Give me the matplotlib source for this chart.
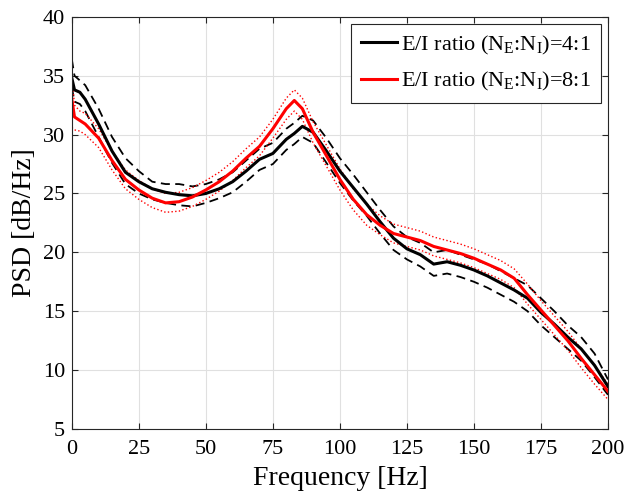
import numpy as np
import matplotlib
matplotlib.use('Agg')
import matplotlib.pyplot as plt

plt.rcParams['font.family'] = ['Liberation Serif', 'DejaVu Serif']
plt.rcParams['mathtext.fontset'] = 'custom'
plt.rcParams['mathtext.rm'] = 'Liberation Serif'
plt.rcParams['mathtext.it'] = 'Liberation Serif'

freq = [0, 1, 3, 5, 10, 15, 20, 25, 30, 35, 40, 45, 50, 55, 60, 65, 70, 75, 80, 83, 86,
        90, 95, 100, 105, 110, 115, 120, 125, 130, 135, 140, 145, 150, 155, 160, 165,
        170, 175, 180, 185, 190, 195, 200]

# E/I 4:1 (black)
psd_41 = [34.8, 33.8, 33.6, 33.0, 30.9, 28.6, 26.8, 26.0, 25.4, 25.1, 24.9, 24.8, 25.0, 25.4,
          26.0, 26.9, 27.9, 28.4, 29.6, 30.1, 30.7, 30.2, 28.6, 26.9, 25.5, 24.1, 22.6, 21.2,
          20.3, 19.8, 19.0, 19.2, 18.9, 18.5, 18.0, 17.4, 16.8, 16.1, 14.9, 13.9, 12.8, 11.8,
          10.4, 8.6]
psd_41_hi = [36.4, 35.0, 34.6, 34.2, 32.2, 29.8, 28.0, 26.9, 26.0, 25.8, 25.8, 25.6, 25.8, 26.2,
             26.8, 27.8, 28.8, 29.3, 30.5, 31.0, 31.6, 31.2, 29.7, 28.0, 26.6, 25.1, 23.6, 22.2,
             21.3, 20.8, 20.0, 20.2, 19.8, 19.4, 19.0, 18.4, 17.8, 17.2, 16.1, 15.0, 13.8, 12.8,
             11.4, 9.2]
psd_41_lo = [34.0, 32.8, 32.6, 32.0, 29.8, 27.6, 25.8, 25.0, 24.5, 24.2, 24.0, 23.9, 24.2, 24.6,
             25.1, 26.0, 27.0, 27.5, 28.7, 29.2, 29.8, 29.3, 27.6, 25.9, 24.4, 23.1, 21.6, 20.2,
             19.4, 18.8, 18.0, 18.2, 17.9, 17.5, 17.0, 16.4, 15.8, 15.0, 13.8, 12.8, 11.8, 10.8,
             9.4, 7.9]

# E/I 8:1 (red)
psd_81 = [33.0, 31.5, 31.2, 30.9, 29.7, 27.8, 26.2, 25.3, 24.6, 24.2, 24.3, 24.7, 25.3, 26.0,
          26.9, 28.0, 29.0, 30.5, 32.2, 32.9, 32.2, 30.2, 28.2, 26.2, 24.5, 23.2, 22.3, 21.6,
          21.3, 21.0, 20.5, 20.2, 19.9, 19.5, 19.0, 18.5, 17.8, 16.4, 15.1, 13.8, 12.5, 11.0,
          9.6, 8.2]
psd_81_hi = [35.0, 32.5, 32.0, 31.8, 30.5, 28.6, 27.0, 26.1, 25.4, 25.0, 25.1, 25.5, 26.1, 26.8,
             27.7, 28.8, 29.8, 31.3, 33.1, 33.8, 33.1, 31.1, 29.1, 27.1, 25.4, 24.1, 23.1, 22.4,
             22.1, 21.8, 21.3, 21.0, 20.7, 20.3, 19.8, 19.3, 18.6, 17.3, 15.9, 14.6, 13.3, 11.8,
             10.4, 8.8]
psd_81_lo = [30.6, 30.4, 30.3, 30.0, 28.9, 27.0, 25.4, 24.5, 23.8, 23.4, 23.5, 23.9, 24.5, 25.2,
             26.1, 27.2, 28.2, 29.7, 31.3, 32.0, 31.3, 29.3, 27.3, 25.3, 23.6, 22.3, 21.5, 20.8,
             20.5, 20.2, 19.7, 19.4, 19.1, 18.7, 18.2, 17.7, 17.0, 15.6, 14.3, 13.0, 11.7, 10.2,
             8.8, 7.5]

fig = plt.figure(figsize=(6.3, 4.97), dpi=100)
ax = fig.add_axes([0.114, 0.137, 0.851, 0.829])

ax.plot(freq, psd_41_hi, 'k--', lw=1.3, dashes=(5, 3))
ax.plot(freq, psd_41_lo, 'k--', lw=1.3, dashes=(5, 3))
ax.plot(freq, psd_81_hi, color='red', ls=':', lw=1.0)
ax.plot(freq, psd_81_lo, color='red', ls=':', lw=1.0)
l1, = ax.plot(freq, psd_41, 'k-', lw=2.2)
l2, = ax.plot(freq, psd_81, color='red', lw=2.2)

ax.set_xlim(0, 200)
ax.set_ylim(5, 40)
ax.set_xticks(np.arange(0, 201, 25))
ax.set_yticks(np.arange(5, 41, 5))
ax.grid(True, color='#e0e0e0', lw=0.8)
ax.set_axisbelow(True)
ax.tick_params(direction='in', top=True, right=True, labelsize=16, length=4, width=0.8,
               colors='#262626', labelcolor='black')
ax.tick_params(axis='x', pad=8)
ax.tick_params(axis='y', pad=5)
for s in ax.spines.values():
    s.set_color('#262626')
    s.set_linewidth(0.8)

ax.set_xlabel('Frequency [Hz]', fontsize=20, labelpad=5)
ax.set_ylabel('PSD [dB/Hz]', fontsize=20, labelpad=4)

leg = ax.legend([l1, l2], [r'E/I ratio (N$_\mathrm{E}$:N$_\mathrm{I}$)=4:1',
                           r'E/I ratio (N$_\mathrm{E}$:N$_\mathrm{I}$)=8:1'],
                loc='upper right', fontsize=16, fancybox=False, edgecolor='#262626',
                framealpha=1, handlelength=1.6, handletextpad=0.2, borderpad=0.45,
                labelspacing=0.6, borderaxespad=0.3)
leg.get_frame().set_linewidth(0.8)

fig.savefig('out.png', dpi=100)
